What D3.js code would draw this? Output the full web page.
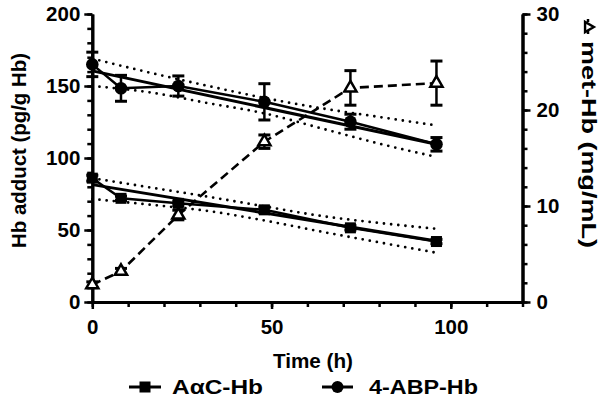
<!DOCTYPE html>
<html><head><meta charset="utf-8">
<script src="https://cdn.jsdelivr.net/npm/d3@7"></script>
<style>
body{margin:0;background:#fff}
text{font-family:"Liberation Sans",Arial,sans-serif;font-weight:bold;fill:#000}
</style>
</head><body><svg id="c" width="604" height="409"></svg>
<script>
const times = [0, 8, 24, 48, 72, 96];
const acHb = [86, 72, 68.5, 64, 51.5, 42];
const acHbErr = [2, 1.5, 1.5, 2, 1.5, 1.5];
const abpHb = [165, 148.4, 150, 139, 125.2, 109.5];
const abpHbErr = [8.5, 9, 7, 12.6, 5.2, 4.7];
const metHb = [1.8, 3.2, 9.06, 16.7, 22.3, 22.8];
const metHbErr = [0.3, 0.3, 0.5, 0.7, 1.8, 2.3];
const fitTimes = [0, 96];
const acFit = [81.5, 42.3];
const abpFit = [160.5, 109.5];
const bandTimes = [0, 16, 32, 48, 64, 80, 96];
const acUpper = [86, 79.6, 73.2, 66.4, 59.7, 54.9, 50.8];
const acLower = [71.5, 67.6, 63.3, 56.6, 48.8, 41.4, 34.2];
const abpUpper = [169, 159.3, 150.2, 141.7, 134.5, 128.5, 122.6];
const abpLower = [150, 145.6, 138.2, 131, 120.5, 110, 100.7];
const xTicks = [0, 50, 100];
const xMinor = d3.range(0, 121, 10);
const yLeftTicks = [0, 50, 100, 150, 200];
const yLeftMinor = d3.range(0, 201, 10);
const yRightTicks = [0, 10, 20, 30];
const yRightMinor = d3.range(0, 31, 2);
const legendLabels = ["AαC-Hb", "4-ABP-Hb"];
const xTitle = "Time (h)";
const yLeftTitle = "Hb adduct (pg/g Hb)";
const yRightTitle = "met-Hb (mg/mL)";

const svg = d3.select("#c");
const x = d3.scaleLinear([0, 120], [92.3, 522.5]);
const yL = d3.scaleLinear([0, 200], [302, 14]);
const yR = d3.scaleLinear([0, 30], [302, 14]);

function styleAxis(g) {
  g.select(".domain").attr("stroke", "#000").attr("stroke-width", 3);
  g.selectAll(".tick line").attr("stroke", "#000").attr("stroke-width", 2.5);
  g.selectAll(".tick text").attr("font-size", 20.5).attr("font-family", '"Liberation Sans",Arial,sans-serif').attr("font-weight", "bold");
}

// minor ticks
svg.append("g").attr("transform", "translate(0,302)")
  .call(d3.axisBottom(x).tickValues(xMinor).tickSize(5).tickSizeOuter(0).tickFormat(""))
  .call(styleAxis);
svg.append("g").attr("transform", "translate(92.3,0)")
  .call(d3.axisLeft(yL).tickValues(yLeftMinor).tickSize(5).tickSizeOuter(0).tickFormat(""))
  .call(styleAxis);
svg.append("g").attr("transform", "translate(522.5,0)")
  .call(d3.axisRight(yR).tickValues(yRightMinor).tickSize(5).tickSizeOuter(0).tickFormat(""))
  .call(styleAxis);
// major ticks
svg.append("g").attr("transform", "translate(0,302)")
  .call(d3.axisBottom(x).tickValues(xTicks).tickSize(7).tickPadding(10).tickSizeOuter(0))
  .call(styleAxis);
svg.append("g").attr("transform", "translate(92.3,0)")
  .call(d3.axisLeft(yL).tickValues(yLeftTicks).tickSize(8).tickPadding(4).tickSizeOuter(0))
  .call(styleAxis);
svg.append("g").attr("transform", "translate(522.5,0)")
  .call(d3.axisRight(yR).tickValues(yRightTicks).tickSize(8).tickPadding(6).tickSizeOuter(0))
  .call(styleAxis);

// titles
svg.append("text").attr("x", 313).attr("y", 368).attr("text-anchor", "middle").attr("font-size", 21)
  .attr("textLength", 80).attr("lengthAdjust", "spacingAndGlyphs").text(xTitle);
svg.append("text").attr("transform", "translate(26,150.5) rotate(-90)").attr("text-anchor", "middle").attr("font-size", 21)
  .attr("textLength", 195).attr("lengthAdjust", "spacingAndGlyphs").text(yLeftTitle);
const rt = svg.append("g").attr("transform", "translate(582,0) rotate(90)");
rt.append("line").attr("x1", 19).attr("x2", 35).attr("y1", -6).attr("y2", -6)
  .attr("stroke", "#000").attr("stroke-width", 2.5).attr("stroke-dasharray", "3,3");
rt.append("path").attr("d", d3.symbol(d3.symbolTriangle, 45)()).attr("transform", "translate(27,-6)")
  .attr("fill", "#fff").attr("stroke", "#000").attr("stroke-width", 2.4);
rt.append("text").attr("x", 41).attr("y", 0).attr("font-size", 21)
  .attr("textLength", 207).attr("lengthAdjust", "spacingAndGlyphs").text(yRightTitle);

const plot = svg.append("g");

// confidence bands (dotted)
const bandLine = (arr, scale) => d3.line().x((d, i) => x(bandTimes[i])).y(d => scale(d)).curve(d3.curveMonotoneX)(arr);
[acUpper, acLower, abpUpper, abpLower].forEach(arr => {
  plot.append("path").attr("d", bandLine(arr, yL)).attr("fill", "none").attr("stroke", "#000")
    .attr("stroke-width", 2.8).attr("stroke-linecap", "round").attr("stroke-dasharray", "0,7.2");
});

// regression lines
const fitLine = arr => d3.line().x((d, i) => x(fitTimes[i])).y(d => yL(d))(arr);
[acFit, abpFit].forEach(arr => {
  plot.append("path").attr("d", fitLine(arr)).attr("fill", "none").attr("stroke", "#000").attr("stroke-width", 3);
});

// connecting lines
const conn = (arr, scale) => d3.line().x((d, i) => x(times[i])).y(d => scale(d))(arr);
plot.append("path").attr("d", conn(acHb, yL)).attr("fill", "none").attr("stroke", "#000").attr("stroke-width", 2.5);
plot.append("path").attr("d", conn(abpHb, yL)).attr("fill", "none").attr("stroke", "#000").attr("stroke-width", 2.5);
plot.append("path").attr("d", conn(metHb, yR)).attr("fill", "none").attr("stroke", "#000").attr("stroke-width", 2.6)
  .attr("stroke-dasharray", "9,5");

// error bars
function errBars(vals, errs, scale) {
  vals.forEach((v, i) => {
    const cx = x(times[i]);
    const t = scale(v + errs[i]), b = scale(v - errs[i]);
    plot.append("line").attr("x1", cx).attr("x2", cx).attr("y1", t).attr("y2", b).attr("stroke", "#000").attr("stroke-width", 2.5);
    [t, b].forEach(yy => plot.append("line").attr("x1", cx - 6).attr("x2", cx + 6).attr("y1", yy).attr("y2", yy)
      .attr("stroke", "#000").attr("stroke-width", 3));
  });
}
errBars(acHb, acHbErr, yL);
errBars(abpHb, abpHbErr, yL);
errBars(metHb, metHbErr, yR);

// markers
plot.selectAll(".sq").data(acHb).enter().append("rect")
  .attr("x", (d, i) => x(times[i]) - 5.5).attr("y", d => yL(d) - 5.5).attr("width", 11).attr("height", 11).attr("fill", "#000");
plot.selectAll(".ci").data(abpHb).enter().append("circle")
  .attr("cx", (d, i) => x(times[i])).attr("cy", d => yL(d)).attr("r", 6.3).attr("fill", "#000");
plot.selectAll(".tr").data(metHb).enter().append("path")
  .attr("d", d3.symbol(d3.symbolTriangle, 64)())
  .attr("transform", (d, i) => `translate(${x(times[i])},${yR(d)})`)
  .attr("fill", "#fff").attr("stroke", "#000").attr("stroke-width", 2.5);

// legend
const lg = svg.append("g");
lg.append("line").attr("x1", 129).attr("x2", 161).attr("y1", 387).attr("y2", 387).attr("stroke", "#000").attr("stroke-width", 3);
lg.append("rect").attr("x", 139.5).attr("y", 381.5).attr("width", 11).attr("height", 11).attr("fill", "#000");
lg.append("text").attr("x", 172).attr("y", 394).attr("font-size", 21)
  .attr("textLength", 91).attr("lengthAdjust", "spacingAndGlyphs").text(legendLabels[0]);
lg.append("line").attr("x1", 322).attr("x2", 353).attr("y1", 387).attr("y2", 387).attr("stroke", "#000").attr("stroke-width", 3);
lg.append("circle").attr("cx", 337.5).attr("cy", 387).attr("r", 6).attr("fill", "#000");
lg.append("text").attr("x", 369).attr("y", 394).attr("font-size", 21)
  .attr("textLength", 109).attr("lengthAdjust", "spacingAndGlyphs").text(legendLabels[1]);
</script></body></html>
